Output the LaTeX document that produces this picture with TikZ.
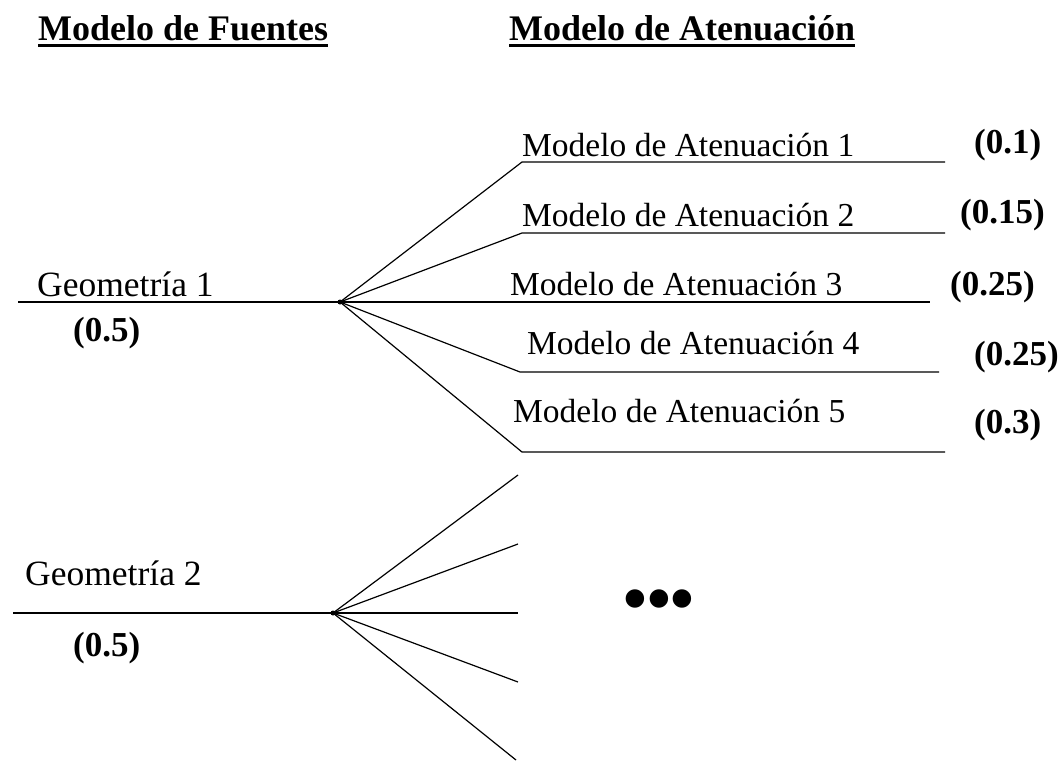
\documentclass[tikz,border=0pt]{standalone}
\usepackage{fontspec}
\setmainfont{Liberation Serif}
\begin{document}
\begin{tikzpicture}[x=1pt,y=-1pt,
  lbl/.style={inner sep=0pt, anchor=base west, font=\fontsize{33.5}{36}\selectfont},
  geo/.style={inner sep=0pt, anchor=base west, font=\fontsize{35.5}{38}\selectfont},
  num/.style={inner sep=0pt, anchor=base west, font=\fontsize{35}{38}\selectfont\bfseries},
  hdr/.style={inner sep=0pt, anchor=base west, font=\fontsize{36}{40}\selectfont\bfseries},
  ln/.style={line width=1.2pt},
  ul/.style={line width=3pt},
  jdot/.style={fill=black}]
\useasboundingbox[fill=white] (0,0) rectangle (1062,761);

% headers
\node[hdr] (h1) at (38,40) {Modelo de Fuentes};
\node[hdr] (h2) at (509,40) {Modelo de Atenuación};
\draw[ul] ([yshift=-5pt]h1.base west) -- ([yshift=-5pt]h1.base east);
\draw[ul] ([yshift=-5pt]h2.base west) -- ([yshift=-5pt]h2.base east);

% geometry 1
\node[geo] (g1) at (37,296) {Geometría 1};
\node[num] (g1p) at (73,341) {(0.5)};
\coordinate (g1s) at (18,302);
\coordinate (j1) at (340,302);
\draw[ln] (g1s) -- (j1);
\fill[jdot] (j1) circle (2.5);

% attenuation branches
\coordinate (a1s) at (522,162); \coordinate (a1e) at (945,162);
\coordinate (a2s) at (522,233); \coordinate (a2e) at (945,233);
\coordinate (a3e) at (930,302);
\coordinate (a4s) at (520,372); \coordinate (a4e) at (939,372);
\coordinate (a5s) at (522,452); \coordinate (a5e) at (945,452);
\draw[ln] (j1) -- (a1s) -- (a1e);
\draw[ln] (j1) -- (a2s) -- (a2e);
\draw[ln] (j1) -- (a3e);
\draw[ln] (j1) -- (a4s) -- (a4e);
\draw[ln] (j1) -- (a5s) -- (a5e);

\node[lbl] (m1) at (522,156) {Modelo de Atenuación 1};
\node[lbl] (m2) at (522,226) {Modelo de Atenuación 2};
\node[lbl] (m3) at (510,295) {Modelo de Atenuación 3};
\node[lbl] (m4) at (527,354) {Modelo de Atenuación 4};
\node[lbl] (m5) at (513,422) {Modelo de Atenuación 5};

\node[num] (p1) at (974,153) {(0.1)};
\node[num] (p2) at (960,223) {(0.15)};
\node[num] (p3) at (950,295) {(0.25)};
\node[num] (p4) at (974,365) {(0.25)};
\node[num] (p5) at (974,433) {(0.3)};

% geometry 2
\node[geo] (g2) at (25,585) {Geometría 2};
\node[num] (g2p) at (73,656) {(0.5)};
\coordinate (g2s) at (13,613);
\coordinate (j2) at (333,613);
\draw[ln] (g2s) -- (j2);
\fill[jdot] (j2) circle (2.5);
\coordinate (b1) at (518,475);
\coordinate (b2) at (518,544);
\coordinate (b3) at (518,613);
\coordinate (b4) at (518,682);
\coordinate (b5) at (516,760);
\foreach \e in {b1,b2,b3,b4,b5} \draw[ln] (j2) -- (\e);

\node[inner sep=0pt, anchor=base, font=\fontsize{68}{70}\selectfont\bfseries] (dots) at (659,621) {•••};
\end{tikzpicture}
\end{document}
